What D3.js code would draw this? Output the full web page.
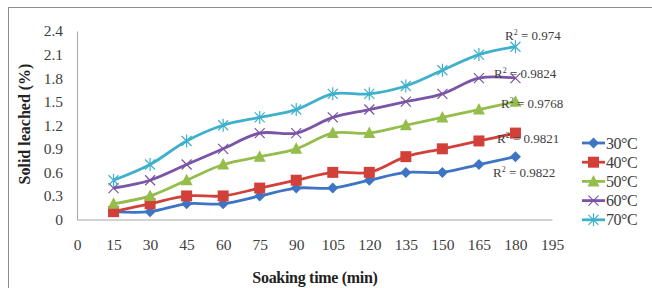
<!DOCTYPE html>
<html>
<head>
<meta charset="utf-8">
<script src="https://cdn.jsdelivr.net/npm/d3@7"></script>
<style>
  body { margin: 0; background: #fff; }
  svg { display: block; font-family: "Liberation Serif", "Times New Roman", serif; }
</style>
</head>
<body>
<div class="chart"></div>
<script>
// soaking times (min)
var times = [15, 30, 45, 60, 75, 90, 105, 120, 135, 150, 165, 180];
var seriesNames = ["30°C", "40°C", "50°C", "60°C", "70°C"];
var s30 = [0.1, 0.1, 0.2, 0.2, 0.3, 0.4, 0.4, 0.5, 0.6, 0.6, 0.7, 0.8];
var s40 = [0.1, 0.2, 0.3, 0.3, 0.4, 0.5, 0.6, 0.6, 0.8, 0.9, 1.0, 1.1];
var s50 = [0.2, 0.3, 0.5, 0.7, 0.8, 0.9, 1.1, 1.1, 1.2, 1.3, 1.4, 1.5];
var s60 = [0.4, 0.5, 0.7, 0.9, 1.1, 1.1, 1.3, 1.4, 1.5, 1.6, 1.8, 1.8];
var s70 = [0.5, 0.7, 1.0, 1.2, 1.3, 1.4, 1.6, 1.6, 1.7, 1.9, 2.1, 2.2];
var rSquared = ["0.9822", "0.9821", "0.9768", "0.9824", "0.974"];
var xTicks = [0, 15, 30, 45, 60, 75, 90, 105, 120, 135, 150, 165, 180, 195];
var yTicks = [0, 0.3, 0.6, 0.9, 1.2, 1.5, 1.8, 2.1, 2.4];

var allValues = [s30, s40, s50, s60, s70];
var colors = ["#3f74c4", "#d2403a", "#94bd4c", "#7a54a6", "#3fb0cc"];
var markers = ["diamond", "square", "triangle", "cross", "asterisk"];

var width = 652, height = 288;
var margin = {left: 77, right: 100, top: 31, bottom: 68.5};

var svg = d3.select('.chart').append('svg')
    .attr('width', width)
    .attr('height', height);

// outer chart border
svg.append('rect')
    .attr('x', 8.5).attr('y', 7.5)
    .attr('width', 660).attr('height', 300)
    .attr('fill', 'none')
    .attr('stroke', '#8c8c8c')
    .attr('stroke-width', 1);

var x = d3.scaleLinear().domain([0, 195]).range([margin.left, width - margin.right]);
var y = d3.scaleLinear().domain([0, 2.4]).range([height - margin.bottom, margin.top]);

// axes
var xAxis = svg.append('g')
    .attr('transform', 'translate(0,' + y(0) + ')')
    .call(d3.axisBottom(x).tickValues(xTicks).tickSize(0).tickPadding(19).tickFormat(d3.format('d')));
var yAxis = svg.append('g')
    .attr('transform', 'translate(' + x(0) + ',0)')
    .call(d3.axisLeft(y).tickValues(yTicks).tickSize(0).tickPadding(14).tickFormat(function(d) { return d === 0 ? '0' : d3.format('.1f')(d); }));
[xAxis, yAxis].forEach(function(a) {
    a.select('.domain').attr('stroke', '#a6a6a6');
    a.selectAll('text')
        .attr('font-family', '"Liberation Serif", serif')
        .attr('font-size', '15.5px')
        .attr('fill', '#404040');
});

// axis titles
svg.append('text')
    .attr('x', 315).attr('y', 283)
    .attr('text-anchor', 'middle')
    .attr('font-weight', 'bold')
    .attr('font-size', '16px')
    .attr('fill', '#222')
    .attr('letter-spacing', '-0.3px')
    .text('Soaking time (min)');
svg.append('text')
    .attr('transform', 'translate(30,124) rotate(-90)')
    .attr('text-anchor', 'middle')
    .attr('font-weight', 'bold')
    .attr('font-size', '16px')
    .attr('fill', '#222')
    .text('Solid leached (%)');

var line = d3.line()
    .x(function(d) { return x(d[0]); })
    .y(function(d) { return y(d[1]); })
    .curve(d3.curveCatmullRom.alpha(0.5));

function drawMarker(g, type, color) {
    if (type === 'diamond') {
        g.append('path').attr('d', 'M0,-5.5L5.5,0L0,5.5L-5.5,0Z').attr('fill', color);
    } else if (type === 'square') {
        g.append('rect').attr('x', -5.5).attr('y', -5.5).attr('width', 11).attr('height', 11).attr('fill', color);
    } else if (type === 'triangle') {
        g.append('path').attr('d', 'M0,-6.5L6,5L-6,5Z').attr('fill', color);
    } else if (type === 'cross') {
        g.append('path').attr('d', 'M-5,-5L5,5M-5,5L5,-5').attr('stroke', color).attr('stroke-width', 1.2);
    } else {
        g.append('path').attr('d', 'M-5,-5L5,5M-5,5L5,-5M0,-6.5L0,6.5').attr('stroke', color).attr('stroke-width', 1.2);
    }
}

allValues.forEach(function(vals, i) {
    var pts = times.map(function(t, j) { return [t, vals[j]]; });
    svg.append('path')
        .datum(pts)
        .attr('d', line)
        .attr('fill', 'none')
        .attr('stroke', colors[i])
        .attr('stroke-width', 2.8);
    pts.forEach(function(p) {
        var g = svg.append('g').attr('transform', 'translate(' + x(p[0]) + ',' + y(p[1]) + ')');
        drawMarker(g, markers[i], colors[i]);
    });
});

// R² labels (trendline annotations)
var rPos = [[493, 172], [497, 138], [501, 103], [494, 73], [505, 35]];
rSquared.forEach(function(r, i) {
    var t = svg.append('text')
        .attr('x', rPos[i][0]).attr('y', rPos[i][1])
        .attr('dy', '0.35em')
        .attr('font-size', '13px')
        .attr('fill', '#404040');
    t.append('tspan').text('R');
    t.append('tspan').attr('font-size', '8px').attr('dy', '-5').text('2');
    t.append('tspan').attr('dy', '5').text(' = ' + r);
});

// legend
var legend = svg.append('g').attr('transform', 'translate(582,143)');
seriesNames.forEach(function(name, i) {
    var row = legend.append('g').attr('transform', 'translate(0,' + (i * 19.2) + ')');
    row.append('line')
        .attr('x1', 0).attr('x2', 23)
        .attr('stroke', colors[i])
        .attr('stroke-width', 2.8);
    drawMarker(row.append('g').attr('transform', 'translate(11.5,0)'), markers[i], colors[i]);
    row.append('text')
        .attr('x', 24).attr('dy', '0.35em')
        .attr('font-size', '16px')
        .attr('fill', '#404040')
        .attr('letter-spacing', '-0.5px')
        .text(name);
});
</script>
</body>
</html>
